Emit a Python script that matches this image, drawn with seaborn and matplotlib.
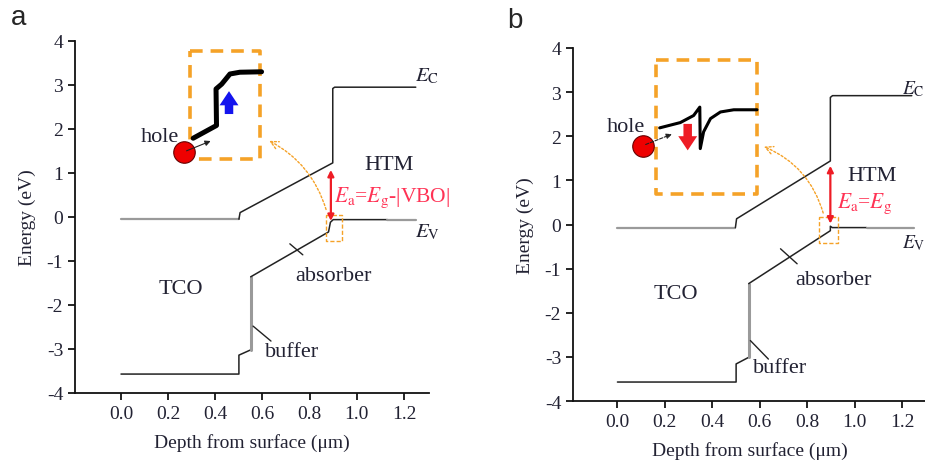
import numpy as np
import pandas as pd
import matplotlib
matplotlib.use("Agg")
import matplotlib.pyplot as plt
import seaborn as sns

sns.set_style("ticks")
plt.rcParams['font.family'] = ['Liberation Serif', 'DejaVu Serif']
plt.rcParams['mathtext.fontset'] = 'stix'

# ---- panel a : band lines (depth in um, energy in eV)
a_vac_x = [0.0, 0.5]
a_vac_y = [-0.05, -0.05]
a_cb_x = [0.5, 0.505, 0.898, 0.898, 0.906, 1.25]
a_cb_y = [-0.05, 0.10, 1.23, 2.92, 2.95, 2.95]
a_vb1_x = [0.0, 0.5, 0.5, 0.55]
a_vb1_y = [-3.57, -3.57, -3.14, -3.02]
a_buf_x = [0.55, 0.55]
a_buf_y = [-3.02, -1.36]
a_vb2_x = [0.55, 0.88, 0.888, 0.9, 1.13]
a_vb2_y = [-1.36, -0.34, -0.12, -0.06, -0.06]
a_ev_x = [1.13, 1.25]
a_ev_y = [-0.06, -0.06]
a_inset_x = [0.306, 0.405, 0.403, 0.427, 0.462, 0.504, 0.596]
a_inset_y = [1.79, 2.08, 2.91, 3.02, 3.25, 3.29, 3.30]
a_box = [0.292, 0.589, 1.32, 3.78]
a_small_box = [0.869, 0.936, -0.55, 0.05]

# ---- panel b
b_vac_x = [0.0, 0.497]
b_vac_y = [-0.07, -0.07]
b_cb_x = [0.497, 0.502, 0.897, 0.897, 0.906, 1.24]
b_cb_y = [-0.07, 0.13, 1.44, 2.88, 2.92, 2.92]
b_vb1_x = [0.0, 0.5, 0.5, 0.553]
b_vb1_y = [-3.57, -3.57, -3.16, -3.01]
b_buf_x = [0.553, 0.553]
b_buf_y = [-3.01, -1.34]
b_vb2_x = [0.553, 0.897, 0.897, 0.905, 1.05]
b_vb2_y = [-1.34, -0.14, -0.04, -0.07, -0.07]
b_ev_x = [1.05, 1.25]
b_ev_y = [-0.07, -0.07]
b_inset_x = [0.178, 0.265, 0.321, 0.347, 0.349, 0.363, 0.392, 0.434, 0.49, 0.588]
b_inset_y = [2.19, 2.31, 2.47, 2.66, 1.72, 2.10, 2.40, 2.55, 2.60, 2.60]
b_box = [0.164, 0.588, 0.70, 3.72]
b_small_box = [0.85, 0.93, -0.41, 0.17]

x_ticks = [0.0, 0.2, 0.4, 0.6, 0.8, 1.0, 1.2]
y_ticks = [-4, -3, -2, -1, 0, 1, 2, 3, 4]

TXT = '#222233'
ORANGE = '#f5a228'
GRAY = '#9a9a9a'
RED = '#ee1c25'
PINK = '#ff3355'


def line(ax, x, y, **kw):
    df = pd.DataFrame({'x': x, 'y': y})
    sns.lineplot(data=df, x='x', y='y', sort=False, estimator=None, ax=ax, **kw)


def rect(ax, b, **kw):
    x0, x1, y0, y1 = b
    line(ax, [x0, x1, x1, x0, x0], [y1, y1, y0, y0, y1], **kw)


fig = plt.figure(figsize=(9.25, 4.64), dpi=100)
ax_a = fig.add_axes([0.0811, 0.1509, 0.3824, 0.7586])
ax_b = fig.add_axes([0.6195, 0.1336, 0.3816, 0.7608])

for ax in (ax_a, ax_b):
    ax.set_ylim(-4, 4)
    ax.set_xticks(x_ticks)
    ax.set_xticklabels([f'{v:.1f}' for v in x_ticks])
    ax.set_yticks(y_ticks)
    ax.set_yticklabels([str(v) for v in y_ticks])
    ax.tick_params(direction='out', length=5, width=1.2, labelsize=14, colors='k',
                   labelcolor=TXT)
    sns.despine(ax=ax)
    for s in ('left', 'bottom'):
        ax.spines[s].set_linewidth(1.3)
        ax.spines[s].set_color('#111111')
    ax.set_xlabel('Depth from surface (\u03bcm)', fontsize=14, color=TXT, labelpad=8)
    ax.set_ylabel('Energy (eV)', fontsize=14, color=TXT, labelpad=8)
ax_a.set_xlim(-0.195, 1.305)
ax_b.set_xlim(-0.187, 1.30)


def draw_panel(ax, vac, cb, vb1, buf, vb2, ev, box, sbox):
    line(ax, *vac, color=GRAY, lw=1.6)
    line(ax, *cb, color='#222222', lw=1.1)
    line(ax, *vb1, color='#222222', lw=1.1)
    line(ax, *buf, color=GRAY, lw=2.2)
    line(ax, *vb2, color='#222222', lw=1.1)
    line(ax, *ev, color=GRAY, lw=1.6)
    rect(ax, box, color=ORANGE, lw=2.6, linestyle=(0, (3.5, 2.2)))
    rect(ax, sbox, color=ORANGE, lw=1.0, linestyle=(0, (3, 1.5)))


draw_panel(ax_a, (a_vac_x, a_vac_y), (a_cb_x, a_cb_y), (a_vb1_x, a_vb1_y),
           (a_buf_x, a_buf_y), (a_vb2_x, a_vb2_y), (a_ev_x, a_ev_y),
           a_box, a_small_box)
draw_panel(ax_b, (b_vac_x, b_vac_y), (b_cb_x, b_cb_y), (b_vb1_x, b_vb1_y),
           (b_buf_x, b_buf_y), (b_vb2_x, b_vb2_y), (b_ev_x, b_ev_y),
           b_box, b_small_box)

line(ax_a, a_inset_x, a_inset_y, color='black', lw=3.6)
line(ax_b, b_inset_x, b_inset_y, color='black', lw=2.2)

# leader marks for absorber / buffer
line(ax_a, [0.716, 0.771], [-0.61, -0.86], color='#222222', lw=1.0)
line(ax_a, [0.56, 0.636], [-2.48, -2.82], color='#222222', lw=1.0)
line(ax_b, [0.687, 0.757], [-0.55, -0.89], color='#222222', lw=1.0)
line(ax_b, [0.56, 0.636], [-2.63, -3.05], color='#222222', lw=1.0)

# holes
sns.scatterplot(x=[0.267], y=[1.48], s=240, color='#ee0000', edgecolor='#660000',
                linewidth=0.8, ax=ax_a, zorder=5)
sns.scatterplot(x=[0.108], y=[1.79], s=240, color='#ee0000', edgecolor='#660000',
                linewidth=0.8, ax=ax_b, zorder=5)
ax_a.annotate('', xy=(0.391, 1.75), xytext=(0.267, 1.48), zorder=6,
              arrowprops=dict(arrowstyle='-|>', lw=0.8, color='#222222', mutation_scale=8))
ax_b.annotate('', xy=(0.24, 2.07), xytext=(0.108, 1.79), zorder=6,
              arrowprops=dict(arrowstyle='-|>', lw=0.8, color='#222222', mutation_scale=8,
                              linestyle=(0, (3, 1.5))))

fat = 'simple,head_length=0.6,head_width=0.8,tail_width=0.36'
ax_a.annotate('', xy=(0.458, 2.86), xytext=(0.458, 2.34),
              arrowprops=dict(arrowstyle=fat, color='#1414ee', mutation_scale=17, lw=0,
                              shrinkA=0, shrinkB=0))
ax_b.annotate('', xy=(0.296, 1.68), xytext=(0.296, 2.28),
              arrowprops=dict(arrowstyle=fat, color=RED, mutation_scale=17, lw=0,
                              shrinkA=0, shrinkB=0))

# Ea double arrows
ax_a.annotate('', xy=(0.89, -0.09), xytext=(0.89, 1.07),
              arrowprops=dict(arrowstyle='<|-|>', color=RED, lw=1.6, mutation_scale=9,
                              shrinkA=0, shrinkB=0))
ax_b.annotate('', xy=(0.897, 0.02), xytext=(0.897, 1.33),
              arrowprops=dict(arrowstyle='<|-|>', color=RED, lw=1.6, mutation_scale=9,
                              shrinkA=0, shrinkB=0))

# dotted zoom arrows
ax_a.annotate('', xy=(0.618, 1.76), xytext=(0.873, 0.11),
              arrowprops=dict(arrowstyle='->', color=ORANGE, lw=1.0, linestyle=(0, (1.5, 1.5)),
                              connectionstyle='arc3,rad=0.22', mutation_scale=14))
ax_b.annotate('', xy=(0.606, 1.79), xytext=(0.87, 0.2),
              arrowprops=dict(arrowstyle='->', color=ORANGE, lw=1.0, linestyle=(0, (1.5, 1.5)),
                              connectionstyle='arc3,rad=0.25', mutation_scale=14))

fs = 16
ax_a.text(0.165, 1.82, 'hole', fontsize=fs, color=TXT, ha='center', va='center')
ax_a.text(1.135, 1.2, 'HTM', fontsize=fs, color=TXT, ha='center', va='center')
ax_a.text(0.905, 0.45, r'$E_\mathrm{a}$=$E_\mathrm{g}$-|VBO|', fontsize=15.5, color=PINK,
          ha='left', va='center')
ax_a.text(1.245, 3.22, r'$E_\mathrm{C}$', fontsize=15, color=TXT, ha='left', va='center')
ax_a.text(1.245, -0.32, r'$E_\mathrm{V}$', fontsize=15, color=TXT, ha='left', va='center')
ax_a.text(0.252, -1.63, 'TCO', fontsize=fs, color=TXT, ha='center', va='center')
ax_a.text(0.90, -1.32, 'absorber', fontsize=fs, color=TXT, ha='center', va='center')
ax_a.text(0.724, -3.05, 'buffer', fontsize=fs, color=TXT, ha='center', va='center')

ax_b.text(0.036, 2.21, 'hole', fontsize=fs, color=TXT, ha='center', va='center')
ax_b.text(1.072, 1.11, 'HTM', fontsize=fs, color=TXT, ha='center', va='center')
ax_b.text(0.927, 0.49, r'$E_\mathrm{a}$=$E_\mathrm{g}$', fontsize=15.5, color=PINK,
          ha='left', va='center')
ax_b.text(1.20, 3.1, r'$E_\mathrm{C}$', fontsize=14, color=TXT, ha='left', va='center')
ax_b.text(1.20, -0.4, r'$E_\mathrm{V}$', fontsize=14, color=TXT, ha='left', va='center')
ax_b.text(0.244, -1.57, 'TCO', fontsize=fs, color=TXT, ha='center', va='center')
ax_b.text(0.91, -1.24, 'absorber', fontsize=fs, color=TXT, ha='center', va='center')
ax_b.text(0.687, -3.25, 'buffer', fontsize=fs, color=TXT, ha='center', va='center')

for a in (ax_a, ax_b):
    for t in a.texts:
        t.set_clip_on(False)

fig.text(18.5 / 925, 1 - 18 / 464, 'a', fontsize=20, family='Liberation Sans',
         ha='center', va='center')
fig.text(515 / 925, 1 - 21 / 464, 'b', fontsize=20, family='Liberation Sans',
         ha='center', va='center')

fig.savefig('out.png', dpi=100)
